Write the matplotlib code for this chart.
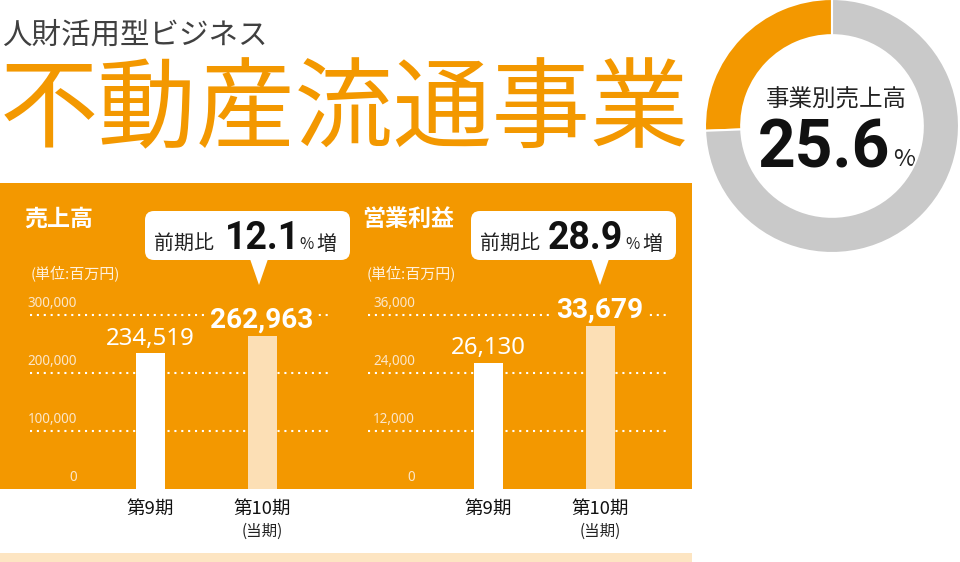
import matplotlib
matplotlib.use("Agg")
import matplotlib.pyplot as plt
from matplotlib.patches import Rectangle, FancyBboxPatch, Polygon

plt.rcParams['font.family'] = ['Noto Sans CJK JP', 'DejaVu Sans']

# ---------------- data ----------------
categories = ["第9期", "第10期"]
sub_label = "(当期)"
sales = [234519, 262963]
sales_ticks = [0, 100000, 200000, 300000]
sales_tick_labels = ["0", "100,000", "200,000", "300,000"]
profit = [26130, 33679]
profit_ticks = [0, 12000, 24000, 36000]
profit_tick_labels = ["0", "12,000", "24,000", "36,000"]
sales_growth = "12.1"
profit_growth = "28.9"
share_values = [25.6, 74.4]
share_label = "25.6"

ORANGE = "#F39800"
LIGHT = "#FCDFB5"
GRAY = "#C9C9C9"
STRIP = "#FDE5C2"
BOLDNUM = ["Roboto", "DejaVu Sans"]

W, H = 960, 562
fig = plt.figure(figsize=(W / 100, H / 100), dpi=100)

bg = fig.add_axes([0, 0, 1, 1], zorder=0)
bg.set_xlim(0, W)
bg.set_ylim(H, 0)
bg.axis("off")

def pt(px):
    return px * 0.72

bg.add_patch(Rectangle((0, 183), 692, 306, facecolor=ORANGE, edgecolor="none"))
bg.add_patch(Rectangle((0, 553), 692, 9, facecolor=STRIP, edgecolor="none"))

bg.text(2, 44, "人財活用型ビジネス", fontsize=pt(29.5), color="#404040",
        ha="left", va="baseline")
bg.text(0, 140, "不動産流通事業", fontsize=pt(98.5), color=ORANGE,
        ha="left", va="baseline")

bg.text(24, 226, "売上高", fontsize=pt(23), color="white", fontweight="bold",
        ha="left", va="baseline")
bg.text(362, 226, "営業利益", fontsize=pt(23), color="white", fontweight="bold",
        ha="left", va="baseline")
for x0 in (31, 367):
    bg.text(x0, 278, "(単位:百万円)", fontsize=pt(15), color="#FFF1DE",
            ha="left", va="baseline")

def callout(x0, x1, tipx, value, vx):
    bg.add_patch(FancyBboxPatch((x0, 211), x1 - x0, 49,
                                boxstyle="round,pad=0,rounding_size=9",
                                facecolor="white", edgecolor="none"))
    bg.add_patch(Polygon([(tipx - 9, 259), (tipx + 9, 259), (tipx, 285)],
                         closed=True, facecolor="white", edgecolor="none"))
    bg.text(x0 + 9, 250, "前期比", fontsize=pt(20), color="#222222",
            ha="left", va="baseline")
    t = bg.text(vx, 249, value, fontsize=pt(37.5), color="#111111",
                fontweight="bold", ha="left", va="baseline", family=BOLDNUM)
    return t

callout(145, 350, 259, sales_growth, 225)
callout(471, 676, 600, profit_growth, 548)
bg.text(299, 249, "%", fontsize=pt(15.5), color="#222222", ha="left", va="baseline")
bg.text(316, 250, "増", fontsize=pt(20), color="#222222", ha="left", va="baseline")
bg.text(625, 249, "%", fontsize=pt(15.5), color="#222222", ha="left", va="baseline")
bg.text(642, 250, "増", fontsize=pt(20), color="#222222", ha="left", va="baseline")

# ---------------- bar charts ----------------
def bar_panel(left_px, values, ticks, tick_labels):
    top_px, bottom_px = 300, 489
    grid_top_px = 315
    ax = fig.add_axes([left_px / W, 1 - bottom_px / H, 300 / W,
                       (bottom_px - top_px) / H], zorder=1)
    ax.patch.set_alpha(0)
    ymax = ticks[-1] * (bottom_px - top_px) / (bottom_px - grid_top_px)
    ax.set_ylim(0, ymax)
    upp = 111.5
    ax.set_xlim(-120.5 / upp, (300 - 120.5) / upp)
    x = list(range(len(values)))
    ax.bar(x, values, width=29 / upp, color=["white", LIGHT], zorder=3)
    for t in ticks[1:]:
        ax.axhline(t, color="white", lw=1.5, linestyle=(0, (1, 2.3)),
                   dash_capstyle="butt", zorder=1)
    for t, lab in zip(ticks, tick_labels):
        ax.annotate(lab, xy=(0.157, t), xycoords=("axes fraction", "data"),
                    xytext=(0, 3), textcoords="offset points",
                    ha="right", va="bottom", fontsize=pt(13.5), color="#FCE6C8",
                    family=["Noto Sans", "DejaVu Sans"])
    ax.annotate(f"{values[0]:,}", xy=(0, values[0]), xytext=(0, 6),
                textcoords="offset points", ha="center", va="baseline",
                fontsize=pt(24), color="white", zorder=2,
                family=["Noto Sans", "DejaVu Sans"])
    ax.annotate(f"{values[1]:,}", xy=(1, values[1]), xytext=(0, 6),
                textcoords="offset points", ha="center", va="baseline",
                fontsize=pt(28), color="white", fontweight="bold", zorder=2,
                family=BOLDNUM,
                bbox=dict(boxstyle="square,pad=0.12", facecolor=ORANGE,
                          edgecolor="none"))
    for i, c in enumerate(categories):
        ax.annotate(c, xy=(i, 0), xycoords="data", xytext=(0, -20 * 0.72),
                    textcoords="offset points", ha="center", va="center",
                    fontsize=pt(18.5), color="#111111", annotation_clip=False)
    ax.annotate(sub_label, xy=(1, 0), xycoords="data", xytext=(0, -42 * 0.72),
                textcoords="offset points", ha="center", va="center",
                fontsize=pt(15.5), color="#222222", annotation_clip=False)
    ax.axis("off")
    return ax

bar_panel(30, sales, sales_ticks, sales_tick_labels)
bar_panel(368, profit, profit_ticks, profit_tick_labels)

# ---------------- donut ----------------
cx, cy, r = 832, 126, 127
dax = fig.add_axes([(cx - r) / W, 1 - (cy + r) / H, 2 * r / W, 2 * r / H], zorder=1)
dax.pie(share_values, colors=[ORANGE, GRAY], startangle=90, counterclock=True,
        wedgeprops=dict(width=0.285, edgecolor="white", linewidth=1.5))
dax.set_xlim(-1, 1)
dax.set_ylim(-1, 1)
dax.set_aspect("auto")
dax.axis("off")

bg.text(836, 107, "事業別売上高", fontsize=pt(23.5), color="#222222",
        ha="center", va="baseline", zorder=5)
bg.text(758, 167, share_label, fontsize=pt(66), color="#111111",
        fontweight="bold", ha="left", va="baseline", zorder=5, family=BOLDNUM)
bg.text(893, 166, "%", fontsize=pt(24), color="#222222",
        ha="left", va="baseline", zorder=5)

fig.savefig("out.png", dpi=100)
